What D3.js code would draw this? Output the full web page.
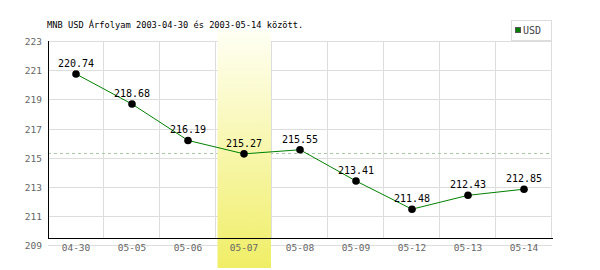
<!DOCTYPE html>
<html>
<head>
<meta charset="utf-8">
<script src="https://cdn.jsdelivr.net/npm/d3@7"></script>
<style>
  body { margin: 0; background: #fff; }
  text { font-family: "DejaVu Sans Mono", monospace; }
</style>
</head>
<body>
<svg width="600" height="270"></svg>
<script>
// adatok
var dates = ["04-30", "05-05", "05-06", "05-07", "05-08", "05-09", "05-12", "05-13", "05-14"];
var usdValues = [220.74, 218.68, 216.19, 215.27, 215.55, 213.41, 211.48, 212.43, 212.85];
var yTicks = [209, 211, 213, 215, 217, 219, 221, 223];
var avgValue = 215.3;
var highlightDate = "05-07";
var title = "MNB USD Árfolyam 2003-04-30 és 2003-05-14 között.";
var seriesName = "USD";

// figyelem: "top" foglalt nev a window-on
var svg = d3.select("svg"),
    plotLeft = 48, plotRight = 552, plotTop = 41, plotBottom = 238;

var x = d3.scaleBand().domain(dates).range([plotLeft, plotRight]).padding(0),
    y = d3.scaleLinear().domain([209, 223]).range([245.4, plotTop]);

// gradient a kiemelt naphoz
var grad = svg.append("defs").append("linearGradient")
    .attr("id", "hl").attr("x1", 0).attr("y1", 0).attr("x2", 0).attr("y2", 1);
grad.append("stop").attr("offset", "0%").attr("stop-color", "#fffff4");
grad.append("stop").attr("offset", "100%").attr("stop-color", "#f0ee66");

// vizszintes racs
svg.append("g").selectAll("line")
  .data(yTicks)
  .enter().append("line")
    .attr("x1", plotLeft).attr("x2", plotRight)
    .attr("y1", function(d) { return Math.round(y(d)) + 0.5; })
    .attr("y2", function(d) { return Math.round(y(d)) + 0.5; })
    .attr("stroke", "#dddddd");

// fuggoleges racs
svg.append("g").selectAll("line")
  .data(dates)
  .enter().append("line")
    .attr("x1", function(d) { return Math.round(x(d) + x.bandwidth()) - 0.5; })
    .attr("x2", function(d) { return Math.round(x(d) + x.bandwidth()) - 0.5; })
    .attr("y1", plotTop).attr("y2", plotBottom)
    .attr("stroke", "#dddddd");

// atlag szaggatott vonal
svg.append("line")
    .attr("x1", plotLeft).attr("x2", plotRight)
    .attr("y1", Math.round(y(avgValue)) + 0.5)
    .attr("y2", Math.round(y(avgValue)) + 0.5)
    .attr("stroke", "#a8c8a8")
    .attr("stroke-dasharray", "3,3");

// kiemelt sav
svg.append("rect")
    .attr("x", x(highlightDate) + 1.5)
    .attr("y", 30)
    .attr("width", x.bandwidth() - 2.5)
    .attr("height", 238)
    .attr("fill", "url(#hl)");

// tengelyek (fekete keret)
svg.append("line")
    .attr("x1", plotLeft + 0.5).attr("x2", plotLeft + 0.5)
    .attr("y1", plotTop).attr("y2", plotBottom + 1)
    .attr("stroke", "#000");
svg.append("line")
    .attr("x1", plotLeft).attr("x2", plotRight + 1)
    .attr("y1", plotBottom + 0.5).attr("y2", plotBottom + 0.5)
    .attr("stroke", "#000");

// y feliratok
svg.append("g").selectAll("text")
  .data(yTicks)
  .enter().append("text")
    .attr("x", 42)
    .attr("y", function(d) { return y(d) + 4; })
    .attr("text-anchor", "end")
    .attr("fill", "#666")
    .style("font-size", "9.5px")
    .text(function(d) { return d; });

// x feliratok
svg.append("g").selectAll("text")
  .data(dates)
  .enter().append("text")
    .attr("x", function(d) { return x(d) + x.bandwidth() / 2; })
    .attr("y", 251)
    .attr("text-anchor", "middle")
    .attr("fill", "#666")
    .style("font-size", "9.5px")
    .text(function(d) { return d; });

// vonal
var line = d3.line()
    .x(function(d, i) { return x(dates[i]) + x.bandwidth() / 2; })
    .y(function(d) { return y(d); });

svg.append("path")
    .datum(usdValues)
    .attr("d", line)
    .attr("fill", "none")
    .attr("stroke", "#008000")
    .attr("stroke-width", 1);

// pontok
svg.append("g").selectAll("circle")
  .data(usdValues)
  .enter().append("circle")
    .attr("cx", function(d, i) { return x(dates[i]) + x.bandwidth() / 2; })
    .attr("cy", function(d) { return y(d); })
    .attr("r", 3.8)
    .attr("fill", "#000");

// ertekek a pontok felett
svg.append("g").selectAll("text")
  .data(usdValues)
  .enter().append("text")
    .attr("x", function(d, i) { return x(dates[i]) + x.bandwidth() / 2; })
    .attr("y", function(d) { return y(d) - 7; })
    .attr("text-anchor", "middle")
    .attr("fill", "#000")
    .style("font-size", "10px")
    .text(function(d) { return d.toFixed(2); });

// cim
svg.append("text")
    .attr("x", 47)
    .attr("y", 28)
    .attr("fill", "#000")
    .style("font-size", "8.7px")
    .text(title);

// jelmagyarazat
svg.append("rect")
    .attr("x", 511.5).attr("y", 20.5)
    .attr("width", 40).attr("height", 20)
    .attr("fill", "#fff")
    .attr("stroke", "#dddddd");
svg.append("rect")
    .attr("x", 515.5).attr("y", 27.5)
    .attr("width", 5).attr("height", 5)
    .attr("fill", "#008000")
    .attr("stroke", "#555");
svg.append("text")
    .attr("x", 523)
    .attr("y", 34)
    .attr("fill", "#444")
    .style("font-size", "10px")
    .text(seriesName);
</script>
</body>
</html>
